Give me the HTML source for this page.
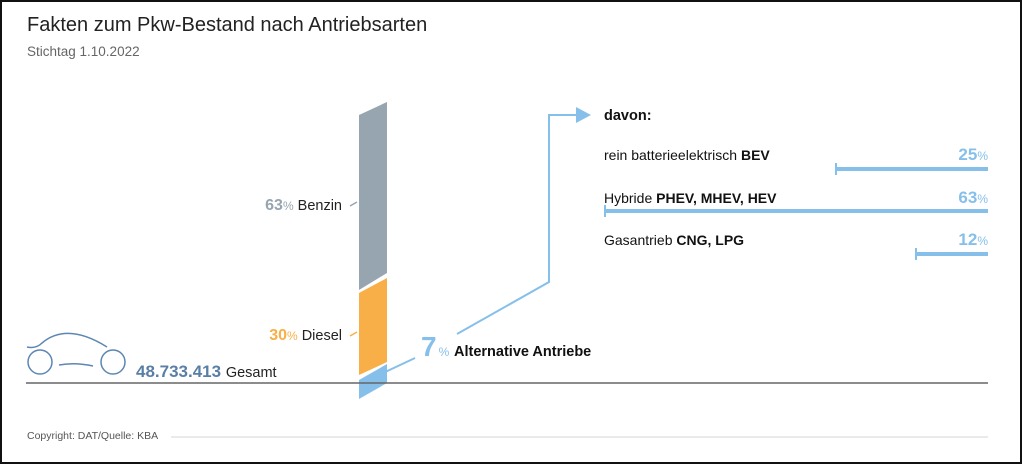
<!DOCTYPE html>
<html><head><meta charset="utf-8"><style>
html,body{margin:0;padding:0;background:#fff}
svg{display:block}
text{font-family:"Liberation Sans",sans-serif}
</style></head><body>
<svg width="1022" height="464" viewBox="0 0 1022 464" xmlns="http://www.w3.org/2000/svg">
<rect x="1" y="1" width="1020" height="462" fill="#fff" stroke="#111" stroke-width="2"/>
<text x="27" y="31" font-size="20" fill="#222">Fakten zum Pkw-Bestand nach Antriebsarten</text>
<text x="27" y="56" font-size="13.5" fill="#666">Stichtag 1.10.2022</text>

<!-- bars -->
<polygon points="359,115 387,102 387,273 359,290" fill="#97a5b1"/>
<polygon points="359,293 387,278 387,362 359,375" fill="#f9af48"/>
<polygon points="359,380 387,364 387,383 359,399" fill="#86c0ea"/>
<line x1="26" y1="383" x2="988" y2="383" stroke="#666" stroke-width="1.5"/>

<line x1="350" y1="206" x2="357" y2="202" stroke="#97a5b1" stroke-width="1.5"/>
<text x="342" y="210" font-size="14.5" fill="#222" text-anchor="end"><tspan fill="#97a5b1" font-weight="bold" font-size="16">63</tspan><tspan fill="#97a5b1" font-size="12">%</tspan> Benzin</text>
<line x1="350" y1="336" x2="357" y2="332" stroke="#f9af48" stroke-width="1.5"/>
<text x="342" y="340" font-size="14.5" fill="#222" text-anchor="end"><tspan fill="#f9af48" font-weight="bold" font-size="16">30</tspan><tspan fill="#f9af48" font-size="12">%</tspan> Diesel</text>

<!-- car -->
<g fill="none" stroke="#5d87b3" stroke-width="1.5">
<circle cx="40" cy="362" r="12"/>
<circle cx="113" cy="362" r="12"/>
<path d="M59,365 Q75,362 93,366"/>
<path d="M27,347 Q36,349 42,343 Q67,322 107,347"/>
</g>
<text x="136" y="377" font-size="17" font-weight="bold" fill="#5a7fa6">48.733.413 <tspan font-weight="normal" font-size="14.5" fill="#222">Gesamt</tspan></text>

<!-- connector -->
<g stroke="#86c0ea" stroke-width="2" fill="none">
<line x1="381" y1="374" x2="415" y2="358"/>
<polyline points="457,334 549,282 549,115 578,115"/>
</g>
<polygon points="576,107 591,115 576,123" fill="#86c0ea"/>
<text x="421" y="356" font-size="28" font-weight="bold" fill="#86c0ea">7<tspan font-size="12" font-weight="normal" dx="2">%</tspan></text>
<text x="454" y="356" font-size="14.5" font-weight="bold" fill="#111">Alternative Antriebe</text>

<!-- right panel -->
<text x="604" y="120" font-size="14.5" font-weight="bold" fill="#111">davon:</text>
<g font-size="14" fill="#111">
<text x="604" y="160">rein batterieelektrisch <tspan font-weight="bold">BEV</tspan></text>
<text x="604" y="203">Hybride <tspan font-weight="bold">PHEV, MHEV, HEV</tspan></text>
<text x="604" y="245">Gasantrieb <tspan font-weight="bold">CNG, LPG</tspan></text>
</g>
<g font-size="17" font-weight="bold" fill="#86c0ea" text-anchor="end">
<text x="988" y="160">25<tspan font-size="12" font-weight="normal">%</tspan></text>
<text x="988" y="203">63<tspan font-size="12" font-weight="normal">%</tspan></text>
<text x="988" y="245">12<tspan font-size="12" font-weight="normal">%</tspan></text>
</g>
<g stroke="#86c0ea">
<line x1="835" y1="169" x2="988" y2="169" stroke-width="4"/>
<line x1="836" y1="163" x2="836" y2="175" stroke-width="2"/>
<line x1="604" y1="211" x2="988" y2="211" stroke-width="4"/>
<line x1="605" y1="205" x2="605" y2="217" stroke-width="2"/>
<line x1="915" y1="254" x2="988" y2="254" stroke-width="4"/>
<line x1="916" y1="248" x2="916" y2="260" stroke-width="2"/>
</g>

<text x="27" y="439" font-size="10.5" fill="#555">Copyright: DAT/Quelle: KBA</text>
<line x1="171" y1="437" x2="988" y2="437" stroke="#e4e4e4" stroke-width="1.5"/>
</svg>
</body></html>
